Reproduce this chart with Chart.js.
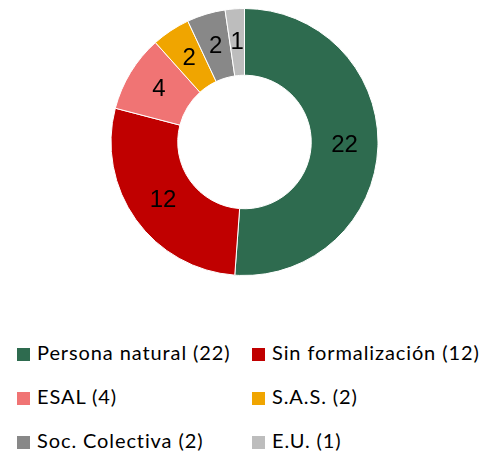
<!DOCTYPE html>
<html>
<head>
<meta charset="utf-8">
<script src="https://cdn.jsdelivr.net/npm/chart.js@4.4.1/dist/chart.umd.min.js"></script>
<style>
  html, body { margin: 0; padding: 0; background: #fff; }
  #wrap { position: relative; width: 487px; height: 452px; overflow: hidden; }
  #chartBox { position: absolute; left: 0; top: 0; width: 487px; height: 284px; }
  #legend { position: absolute; left: 0; top: 330px; width: 487px; }
  .lg-item {
    position: absolute; font-family: Lato, "Liberation Sans", sans-serif;
    font-size: 20px; letter-spacing: 0.9px; color: #000; white-space: nowrap; line-height: 20px;
  }
  .lg-box { display: inline-block; width: 13px; height: 13px; margin-right: 7px; vertical-align: -1px; }
</style>
</head>
<body>
<div id="wrap">
  <div id="chartBox"><canvas id="pieChart"></canvas></div>
  <div id="legend"></div>
</div>
<script>
// Datos del gráfico
const categorias = ["Persona natural", "Sin formalización", "ESAL", "S.A.S.", "Soc. Colectiva", "E.U."];
const valores = [22, 12, 4, 2, 2, 1];
const colores = ["#2E6B4F", "#C00000", "#F07474", "#F0A500", "#888888", "#BDBDBD"];

// Plugin sencillo para escribir el valor dentro de cada porción
const etiquetasValor = {
  id: "etiquetasValor",
  afterDatasetsDraw(chart) {
    const ctx = chart.ctx;
    const meta = chart.getDatasetMeta(0);
    ctx.save();
    ctx.font = '24px "Liberation Sans", Arial, sans-serif';
    ctx.fillStyle = "#000";
    ctx.textAlign = "center";
    ctx.textBaseline = "middle";
    meta.data.forEach((arc, i) => {
      const pos = arc.tooltipPosition();
      ctx.fillText(String(valores[i]), pos.x, pos.y);
    });
    ctx.restore();
  },
};

document.addEventListener("DOMContentLoaded", function () {
  const canvas = document.getElementById("pieChart");

  new Chart(canvas, {
    type: "doughnut",
    data: {
      labels: categorias,
      datasets: [
        {
          data: valores,
          backgroundColor: colores,
          borderColor: "#fff",
          borderWidth: 1,
        },
      ],
    },
    options: {
      responsive: true,
      maintainAspectRatio: false,
      animation: false,
      cutout: "50%",
      layout: { padding: { top: 8, bottom: 8, left: 2 } },
      plugins: {
        legend: { display: false },
        tooltip: { enabled: false },
      },
    },
    plugins: [etiquetasValor],
  });

  // Leyenda en dos columnas
  const legend = document.getElementById("legend");
  const colX = [17, 252];
  const rowY = [12, 56, 100];
  categorias.forEach((nombre, i) => {
    const item = document.createElement("div");
    item.className = "lg-item";
    item.style.left = colX[i % 2] + "px";
    item.style.top = rowY[Math.floor(i / 2)] + "px";
    item.innerHTML =
      '<span class="lg-box" style="background:' + colores[i] + '"></span>' +
      nombre + " (" + valores[i] + ")";
    legend.appendChild(item);
  });
});
</script>
</body>
</html>
